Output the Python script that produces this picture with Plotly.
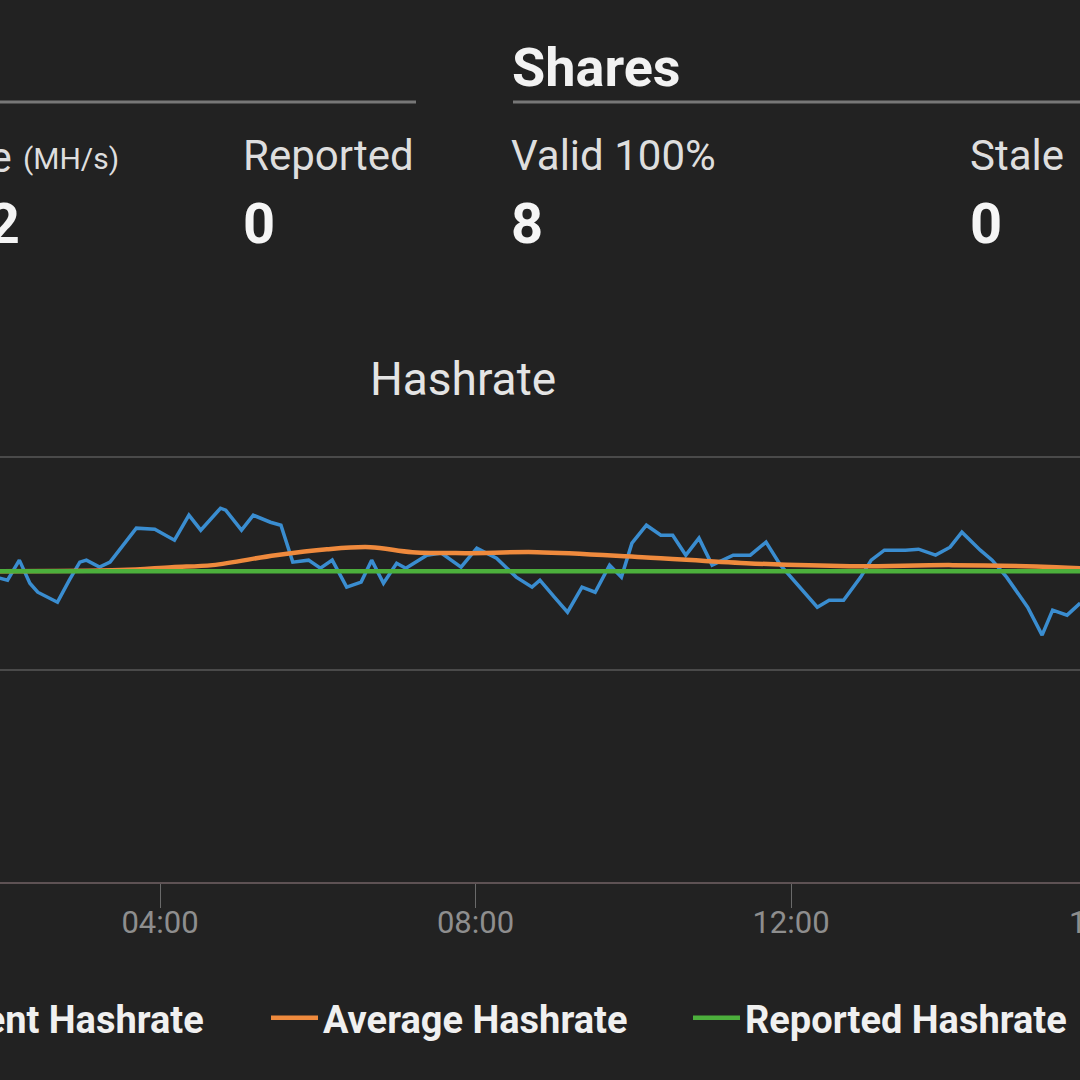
import plotly.graph_objects as go

DAY = "2021-06-01 "

# Current (blue) hashrate samples, MH/s
current_times = ["01:58", "02:04", "02:13", "02:21", "02:27", "02:42", "02:51", "02:59", "03:04", "03:14",
                 "03:22", "03:42", "03:56", "04:11", "04:22", "04:31", "04:46", "04:50", "05:02", "05:11",
                 "05:24", "05:32", "05:41", "05:53", "06:02", "06:11", "06:22", "06:33", "06:41", "06:50",
                 "07:00", "07:07", "07:23", "07:34", "07:49", "08:01", "08:16", "08:31", "08:43", "08:49",
                 "09:00", "09:10", "09:21", "09:31", "09:42", "09:51", "09:59", "10:10", "10:21", "10:30",
                 "10:40", "10:50", "11:00", "11:16", "11:29", "11:41", "11:52", "12:03", "12:20", "12:29",
                 "12:40", "12:53", "13:01", "13:11", "13:27", "13:37", "13:50", "14:01", "14:10", "14:24",
                 "14:33", "14:44", "15:00", "15:11", "15:19", "15:30", "15:40"]
current_values = [28.61, 28.42, 30.31, 28.14, 27.29, 26.35, 28.42, 30.12, 30.31, 29.65,
                  30.12, 33.32, 33.22, 32.19, 34.54, 33.13, 35.20, 35.01, 33.13, 34.54,
                  33.88, 33.60, 30.12, 30.31, 29.55, 30.31, 27.77, 28.24, 30.31, 28.14,
                  30.02, 29.55, 30.78, 30.97, 29.65, 31.44, 30.49, 28.71, 27.77, 28.42,
                  26.82, 25.41, 27.77, 27.29, 29.84, 28.71, 31.91, 33.60, 32.66, 32.66,
                  30.78, 32.38, 29.84, 30.78, 30.78, 32.00, 29.84, 28.24, 25.88, 26.54,
                  26.54, 28.71, 30.31, 31.25, 31.25, 31.34, 30.78, 31.53, 32.94, 31.25,
                  30.31, 28.71, 25.88, 23.25, 25.60, 25.13, 26.26]

# Average (orange) hashrate, MH/s
average_times = ["01:58", "03:30", "04:09", "04:40", "05:28", "06:07", "06:40", "07:12", "07:52",
                 "08:47", "10:07", "11:26", "12:45", "14:03", "15:22", "15:40"]
average_values = [29.27, 29.37, 29.65, 29.84, 30.78, 31.34, 31.53, 31.06, 30.97,
                  31.06, 30.59, 30.02, 29.74, 29.84, 29.65, 29.55]

# Reported (green) hashrate, MH/s
reported_times = ["01:50", "15:50"]
reported_values = [29.27, 29.27]

series_names = ["Current Hashrate", "Average Hashrate", "Reported Hashrate"]
series_colors = ["#3a8dd0", "#ef8a3d", "#4caf3c"]

x_tick_labels = ["04:00", "08:00", "12:00"]
cut_tick_label = "16:00"

header_stats = [
    ("Reported", "0"),
    ("Valid 100%", "8"),
    ("Stale", "0"),
]

W, H = 1080, 1080
PLOT_TOP, PLOT_BOTTOM = 436, 882
PH = PLOT_BOTTOM - PLOT_TOP


def py(v):
    return (PLOT_BOTTOM - v) / PH


def px(v):
    return v / W


BG = "#222222"
FONT = "Roboto"

fig = go.Figure()
fig.add_trace(go.Scatter(x=[DAY + t for t in current_times], y=current_values, mode="lines",
                         name=series_names[0], legend="legend",
                         line=dict(color=series_colors[0], width=3.5)))
fig.add_trace(go.Scatter(x=[DAY + t for t in average_times], y=average_values, mode="lines",
                         name=series_names[1], legend="legend2",
                         line=dict(color=series_colors[1], width=4.5, shape="spline")))
fig.add_trace(go.Scatter(x=[DAY + t for t in reported_times], y=reported_values, mode="lines",
                         name=series_names[2], legend="legend3",
                         line=dict(color=series_colors[2], width=4.5)))

annotations = []


def txt(text, x, y, size, color="#e2e2e2", weight="normal", xanchor="left"):
    annotations.append(dict(text=text, x=px(x), y=py(y), xref="paper", yref="paper",
                            xanchor=xanchor, yanchor="middle", showarrow=False,
                            font=dict(family=FONT, size=size, color=color, weight=weight)))


# header block
txt("Shares", 510, 67, 54, "#f2f2f2", "bold")
txt("Average", 14, 157, 42, "#dedede", "normal", "right")
txt("(MH/s)", 21, 158, 30, "#dedede")
txt("30.12", 22, 224, 56, "#f5f5f5", "bold", "right")
for (label, value), xpos in zip(header_stats, [241, 509, 968]):
    txt(label, xpos, 155, 42, "#dedede")
    txt(value, xpos, 224, 56, "#f5f5f5", "bold")

# chart title
txt("Hashrate", 463, 379, 46, "#e4e4e4", "normal", "center")
# partially visible tick label at the right edge
txt(cut_tick_label, 1107, 922, 31, "#8e8e8e", "normal", "center")

shapes = [
    dict(type="line", xref="paper", yref="paper", x0=px(-20), x1=px(416), y0=py(102), y1=py(102),
         line=dict(color="#777777", width=3)),
    dict(type="line", xref="paper", yref="paper", x0=px(513), x1=px(1100), y0=py(102), y1=py(102),
         line=dict(color="#777777", width=3)),
]

legend_font = dict(family=FONT, size=38, color="#f0f0f0", weight="bold")


def legend_at(xpix):
    return dict(orientation="h", x=px(xpix), xanchor="left", y=py(1018), yanchor="middle",
                font=legend_font, bgcolor="rgba(0,0,0,0)", itemwidth=47)


fig.update_layout(
    width=W, height=H,
    paper_bgcolor=BG, plot_bgcolor=BG,
    margin=dict(l=0, r=0, t=PLOT_TOP, b=H - PLOT_BOTTOM, pad=0, autoexpand=False),
    font=dict(family=FONT, color="#e2e2e2"),
    annotations=annotations,
    shapes=shapes,
    showlegend=True,
    legend=legend_at(-146),
    legend2=legend_at(266),
    legend3=legend_at(688),
    xaxis=dict(type="date",
               range=[DAY + "01:58:17", DAY + "15:39:50"],
               tickmode="array",
               tickvals=[DAY + t for t in x_tick_labels],
               ticktext=x_tick_labels,
               showgrid=False, zeroline=False,
               showline=True, linecolor="#5e5254", linewidth=2,
               ticks="outside", ticklen=24, tickwidth=1, tickcolor="#6a6a6a",
               ticklabelstandoff=-12,
               tickfont=dict(family=FONT, size=31, color="#8e8e8e")),
    yaxis=dict(range=[0, 42], tickvals=[0, 20, 40], showticklabels=False,
               showgrid=True, gridcolor="#4a4a4a", gridwidth=2,
               zeroline=False, showline=False, ticks=""),
)

fig.write_html("out.html", config={"displayModeBar": False},
               post_script="document.body.style.margin='0';document.body.style.background='#222222';")
